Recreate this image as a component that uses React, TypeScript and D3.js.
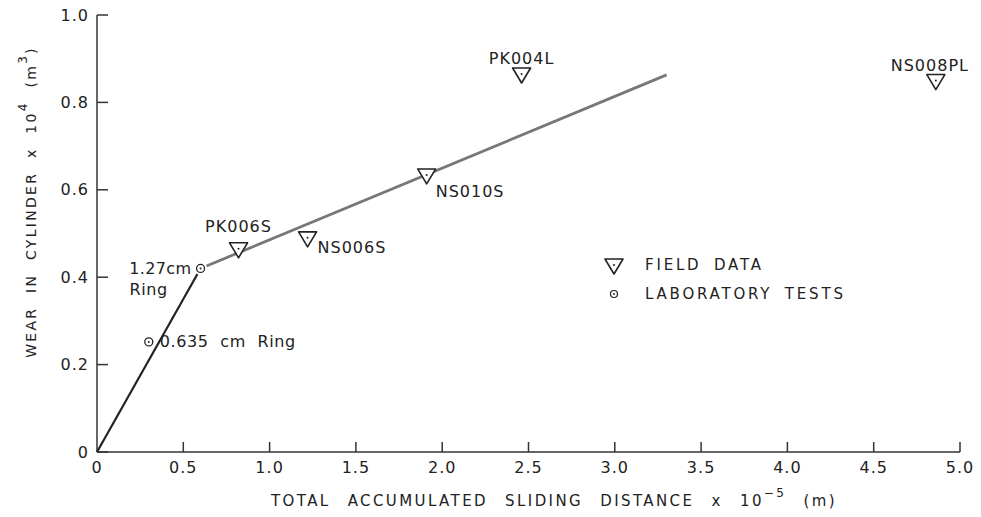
import React from 'react';
import * as d3 from 'd3';

// values (x in 1e5 m, y in 1e-4 m^3)
const fieldNames = ['PK006S', 'NS006S', 'NS010S', 'PK004L', 'NS008PL'];
const fieldX = [0.82, 1.22, 1.91, 2.46, 4.86];
const fieldY = [0.465, 0.49, 0.634, 0.865, 0.85];

const labNames = ['0.635 cm Ring', '1.27cm'];
const labX = [0.3, 0.6];
const labY = [0.252, 0.42];

const fitX = [0, 0.6, 3.3];
const fitY = [0, 0.42, 0.863];

const xTicks = [0, 0.5, 1.0, 1.5, 2.0, 2.5, 3.0, 3.5, 4.0, 4.5, 5.0];
const yTicks = [0, 0.2, 0.4, 0.6, 0.8, 1.0];

const W = 981;
const H = 517;
const font = 'DejaVu Sans, Liberation Sans, sans-serif';

// label offsets for each field point
const fieldLabelPos = [
  { dx: 0, dy: -22, anchor: 'middle' },
  { dx: 10, dy: 10, anchor: 'start' },
  { dx: 9, dy: 16, anchor: 'start' },
  { dx: 0, dy: -16, anchor: 'middle' },
  { dx: -6, dy: -15, anchor: 'middle' },
];

const Tri = ({ x, y }: { x: number; y: number }) => (
  <g transform={`translate(${x},${y})`}>
    <path d="M-9,-6 L9,-6 L0,9 Z" fill="white" stroke="#222" strokeWidth={1.6} strokeLinejoin="round" />
    <circle r={1} fill="#222" />
  </g>
);

const Ring = ({ x, y }: { x: number; y: number }) => (
  <g transform={`translate(${x},${y})`}>
    <circle r={5} fill="white" stroke="white" strokeWidth={3} />
    <circle r={4} fill="white" stroke="#222" strokeWidth={1.3} />
    <circle r={1} fill="#222" />
  </g>
);

export default function App() {
  const x = d3.scaleLinear().domain([0, 5]).range([97, 960]);
  const y = d3.scaleLinear().domain([0, 1]).range([452, 15]);

  const fmt = (v: number) => (v === 0 ? '0' : d3.format('.1f')(v));

  // fitted lines: black up to the 1.27 cm ring, grey afterwards
  const line = d3.line<number>().x((d) => x(fitX[d])).y((d) => y(fitY[d]));

  return (
    <svg width={W} height={H} style={{ position: 'absolute', left: 0, top: 0, background: 'white' }} fontFamily={font}>
      {/* axes */}
      <line x1={x(0)} x2={x(0)} y1={y(0)} y2={y(1)} stroke="#333" strokeWidth={1.5} />
      <line x1={x(0)} x2={x(5)} y1={y(0)} y2={y(0)} stroke="#333" strokeWidth={1.5} />
      {yTicks.map((t) => (
        <g key={'y' + t}>
          <line x1={x(0)} x2={x(0) + 11} y1={y(t)} y2={y(t)} stroke="#333" strokeWidth={1.5} />
          <text x={x(0) - 8} y={y(t)} dy="0.35em" textAnchor="end" fontSize={16} letterSpacing={1} fill="#222">{fmt(t)}</text>
        </g>
      ))}
      {xTicks.map((t) => (
        <g key={'x' + t}>
          {t > 0 && <line x1={x(t)} x2={x(t)} y1={y(0)} y2={y(0) - 10} stroke="#333" strokeWidth={1.5} />}
          <text x={x(t)} y={y(0) + 21} textAnchor="middle" fontSize={16} letterSpacing={1} fill="#222">{fmt(t)}</text>
        </g>
      ))}

      {/* axis titles */}
      <text x={554} y={506} textAnchor="middle" fontSize={15} letterSpacing={2.4} wordSpacing={10} fill="#222">
        {'TOTAL ACCUMULATED SLIDING DISTANCE x 10'}
        <tspan dy={-9} fontSize={12}>−5</tspan>
        <tspan dy={9}>{' (m)'}</tspan>
      </text>
      <text transform="translate(36,202) rotate(-90)" textAnchor="middle" fontSize={14} letterSpacing={2.3} wordSpacing={7} fill="#222">
        {'WEAR IN CYLINDER x 10'}
        <tspan dy={-9} fontSize={12}>4</tspan>
        <tspan dy={9}>{' (m'}</tspan>
        <tspan dy={-9} fontSize={12}>3</tspan>
        <tspan dy={9}>)</tspan>
      </text>

      {/* fitted lines */}
      <path d={line([0, 1]) ?? ''} fill="none" stroke="#222" strokeWidth={2.2} />
      <path d={line([1, 2]) ?? ''} fill="none" stroke="#777" strokeWidth={2.8} />

      {/* lab tests */}
      {labX.map((v, i) => (
        <Ring key={'l' + i} x={x(v)} y={y(labY[i])} />
      ))}
      <text x={x(labX[0]) + 11} y={y(labY[0])} dy="0.35em" fontSize={16} letterSpacing={0.6} wordSpacing={6} fill="#222">{labNames[0]}</text>
      <text x={x(labX[1]) - 9} y={y(labY[1])} dy="0.35em" textAnchor="end" fontSize={16} letterSpacing={0.4} fill="#222">{labNames[1]}</text>
      <text x={x(labX[1]) - 71} y={y(labY[1]) + 21} dy="0.35em" fontSize={16} letterSpacing={0.6} fill="#222">Ring</text>

      {/* field data */}
      {fieldX.map((v, i) => {
        const p = fieldLabelPos[i];
        return (
          <g key={'f' + i}>
            <Tri x={x(v)} y={y(fieldY[i])} />
            <text x={x(v) + p.dx} y={y(fieldY[i]) + p.dy} dy="0.35em" textAnchor={p.anchor} fontSize={16} letterSpacing={1} fill="#222">
              {fieldNames[i]}
            </text>
          </g>
        );
      })}

      {/* legend */}
      <Tri x={614} y={265} />
      <text x={645} y={265} dy="0.35em" fontSize={15} letterSpacing={2.8} wordSpacing={5} fill="#222">FIELD DATA</text>
      <g transform="translate(614,294)">
        <circle r={3.5} fill="white" stroke="#222" strokeWidth={1.2} />
        <circle r={0.9} fill="#222" />
      </g>
      <text x={645} y={294} dy="0.35em" fontSize={15} letterSpacing={2.8} wordSpacing={5} fill="#222">LABORATORY TESTS</text>
    </svg>
  );
}
